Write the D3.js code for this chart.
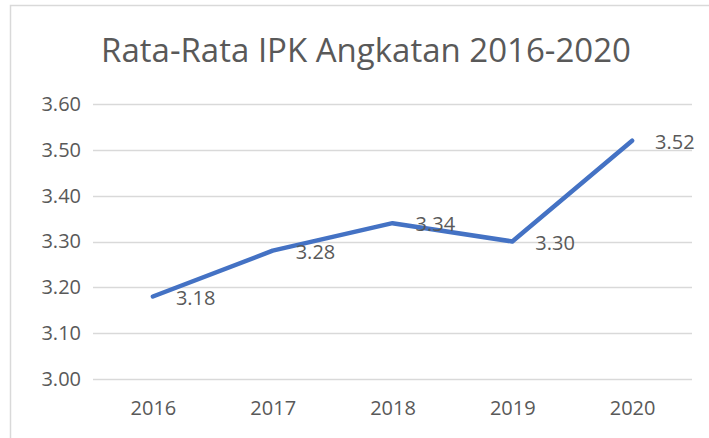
<!DOCTYPE html>
<html>
<head>
<meta charset="utf-8">
<script src="https://cdn.jsdelivr.net/npm/d3@7"></script>
<style>
  body { margin: 0; background: #fff; }
  text { font-family: "Open Sans", sans-serif; fill: #595959; }
</style>
</head>
<body>
<div id="chart"></div>
<script>
const years = ["2016", "2017", "2018", "2019", "2020"];
const ipk = [3.18, 3.28, 3.34, 3.30, 3.52];
const yTicks = [3.00, 3.10, 3.20, 3.30, 3.40, 3.50, 3.60];
const title = "Rata-Rata IPK Angkatan 2016-2020";

const W = 709, H = 438;
const plot = { left: 93, right: 692, top: 104, bottom: 379 };

const svg = d3.select("#chart")
    .append("svg")
    .attr("width", W)
    .attr("height", H);

// chart area border (right/bottom fall outside the picture)
svg.append("rect")
    .attr("x", 10.5)
    .attr("y", 5.5)
    .attr("width", 760)
    .attr("height", 500)
    .attr("fill", "#fff")
    .attr("stroke", "#d9d9d9")
    .attr("stroke-width", 1.5);

svg.append("text")
    .attr("x", 366)
    .attr("y", 62)
    .attr("text-anchor", "middle")
    .style("font-size", "33px")
    .text(title);

const x = d3.scalePoint()
    .domain(years)
    .range([plot.left, plot.right])
    .padding(0.5);

const y = d3.scaleLinear()
    .domain([3.0, 3.6])
    .range([plot.bottom, plot.top]);

// gridlines
svg.append("g")
    .selectAll("line")
    .data(yTicks)
    .enter().append("line")
    .attr("x1", plot.left)
    .attr("x2", plot.right)
    .attr("y1", d => Math.round(y(d)) + 0.5)
    .attr("y2", d => Math.round(y(d)) + 0.5)
    .attr("stroke", "#d9d9d9")
    .attr("stroke-width", 1.5);

// y axis labels
const yAxis = svg.append("g")
    .attr("transform", `translate(${plot.left - 12},0)`)
    .call(d3.axisLeft(y).tickValues(yTicks).tickFormat(d3.format(".2f")).tickSize(0).tickPadding(0));
yAxis.select(".domain").remove();
yAxis.selectAll("text")
    .style("font-size", "20px")
    .style("font-family", "'Open Sans', sans-serif")
    .attr("fill", "#595959");

// x axis labels
const xAxis = svg.append("g")
    .attr("transform", `translate(0,${plot.bottom + 22})`)
    .call(d3.axisBottom(x).tickSize(0).tickPadding(0));
xAxis.select(".domain").remove();
xAxis.selectAll("text")
    .style("font-size", "20px")
    .style("font-family", "'Open Sans', sans-serif")
    .attr("fill", "#595959");

const data = years.map((yr, i) => ({ year: yr, value: ipk[i] }));

const line = d3.line()
    .x(d => x(d.year))
    .y(d => y(d.value));

svg.append("path")
    .datum(data)
    .attr("fill", "none")
    .attr("stroke", "#4472c4")
    .attr("stroke-width", 4.5)
    .attr("stroke-linecap", "round")
    .attr("stroke-linejoin", "round")
    .attr("d", line);

// data labels, placed to the right of each point
svg.selectAll(".dlabel")
    .data(data)
    .enter().append("text")
    .attr("class", "dlabel")
    .attr("x", d => x(d.year) + 23)
    .attr("y", d => y(d.value) + 1)
    .attr("dy", "0.35em")
    .style("font-size", "20px")
    .text(d => d.value.toFixed(2));
</script>
</body>
</html>
